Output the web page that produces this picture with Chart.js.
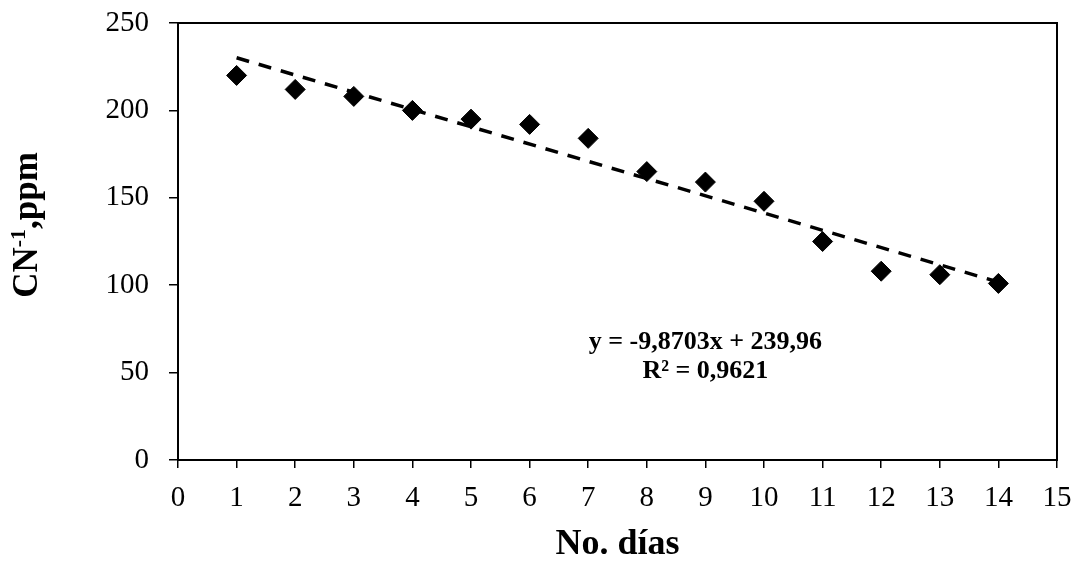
<!DOCTYPE html>
<html lang="es">
<head>
<meta charset="utf-8">
<title>CN-1 vs No. días</title>
<script src="https://cdn.jsdelivr.net/npm/chart.js@4/dist/chart.umd.min.js"></script>
<style>
  html, body { margin: 0; padding: 0; background: #fff; }
  #wrap { width: 1073px; height: 565px; }
</style>
</head>
<body>
<div id="wrap"><canvas id="chart" width="1073" height="565"></canvas></div>
<script>
const days = [1, 2, 3, 4, 5, 6, 7, 8, 9, 10, 11, 12, 13, 14];
const cnPpm = [220, 212, 208, 200, 195, 192, 184, 165, 159, 148, 125, 108, 106, 101];

// linear trendline end points as drawn
const trendDays = [1, 14];
const trendPpm = [230.1, 101.8];

const xTicks = [0, 15, 1];
const yTicks = [0, 250, 50];

const eqLines = ["y = -9,8703x + 239,96", "R² = 0,9621"];
const xTitle = "No. días";
const yTitle = ["CN", "-1", ",ppm"];

const serif = "'Liberation Serif', 'Times New Roman', serif";

const toPoints = (xs, ys) => xs.map((x, i) => ({ x, y: ys[i] }));

const frame = {
  id: "frame",
  afterDraw(chart) {
    const { ctx, chartArea: a, scales } = chart;
    ctx.save();
    ctx.strokeStyle = "#000";
    ctx.lineWidth = 2;
    ctx.strokeRect(a.left, a.top, a.right - a.left, a.bottom - a.top);

    // trendline equation
    ctx.fillStyle = "#000";
    ctx.font = `bold 26px ${serif}`;
    ctx.textAlign = "center";
    ctx.textBaseline = "alphabetic";
    const ex = scales.x.getPixelForValue(9);
    ctx.fillText(eqLines[0], ex, scales.y.getPixelForValue(63.5));
    ctx.fillText(eqLines[1], ex, scales.y.getPixelForValue(47));

    // y axis title with superscript
    const big = `bold 35px ${serif}`;
    const small = `bold 22px ${serif}`;
    ctx.font = big;
    const w0 = ctx.measureText(yTitle[0]).width;
    const w2 = ctx.measureText(yTitle[2]).width;
    ctx.font = small;
    const w1 = ctx.measureText(yTitle[1]).width;
    const total = w0 + w1 + w2;
    ctx.translate(37, 225);
    ctx.rotate(-Math.PI / 2);
    ctx.textAlign = "left";
    let cx = -total / 2;
    ctx.font = big;
    ctx.fillText(yTitle[0], cx, 0);
    cx += w0;
    ctx.font = small;
    ctx.fillText(yTitle[1], cx, -12);
    cx += w1;
    ctx.font = big;
    ctx.fillText(yTitle[2], cx, 0);
    ctx.restore();
  }
};

new Chart(document.getElementById("chart"), {
  type: "scatter",
  data: {
    datasets: [
      {
        label: "CN-1",
        data: toPoints(days, cnPpm),
        pointStyle: "rectRot",
        pointRadius: 10,
        pointHoverRadius: 10,
        backgroundColor: "#000",
        borderColor: "#000",
        borderWidth: 1,
        showLine: false
      },
      {
        label: "Lineal",
        data: toPoints(trendDays, trendPpm),
        showLine: true,
        borderColor: "#000",
        borderWidth: 3.5,
        borderDash: [13, 10],
        pointRadius: 0,
        pointHoverRadius: 0
      }
    ]
  },
  options: {
    responsive: false,
    animation: false,
    clip: false,
    layout: { padding: { left: 0, top: 23, right: 16, bottom: 0 } },
    plugins: { legend: { display: false }, tooltip: { enabled: false } },
    scales: {
      x: {
        type: "linear",
        min: xTicks[0],
        max: xTicks[1],
        afterFit: (s) => { s.height = 105; s.paddingLeft = 0; s.paddingRight = 0; },
        ticks: { stepSize: xTicks[2], color: "#000", padding: 13, font: { family: serif, size: 29 } },
        grid: { drawOnChartArea: false, drawTicks: true, tickLength: 8, color: "#000", lineWidth: 1.5 },
        border: { display: true, color: "#000", width: 2 },
        title: {
          display: true,
          text: xTitle,
          color: "#000",
          font: { family: serif, size: 36, weight: "bold", lineHeight: 1.1 },
          padding: { top: 0, bottom: 0 }
        }
      },
      y: {
        type: "linear",
        min: yTicks[0],
        max: yTicks[1],
        afterFit: (s) => { s.width = 178; s.paddingTop = 0; s.paddingBottom = 0; },
        ticks: { stepSize: yTicks[2], color: "#000", padding: 20, font: { family: serif, size: 29 } },
        grid: { drawOnChartArea: false, drawTicks: true, tickLength: 9, color: "#000", lineWidth: 1.5 },
        border: { display: true, color: "#000", width: 2 }
      }
    }
  },
  plugins: [frame]
});
</script>
</body>
</html>
